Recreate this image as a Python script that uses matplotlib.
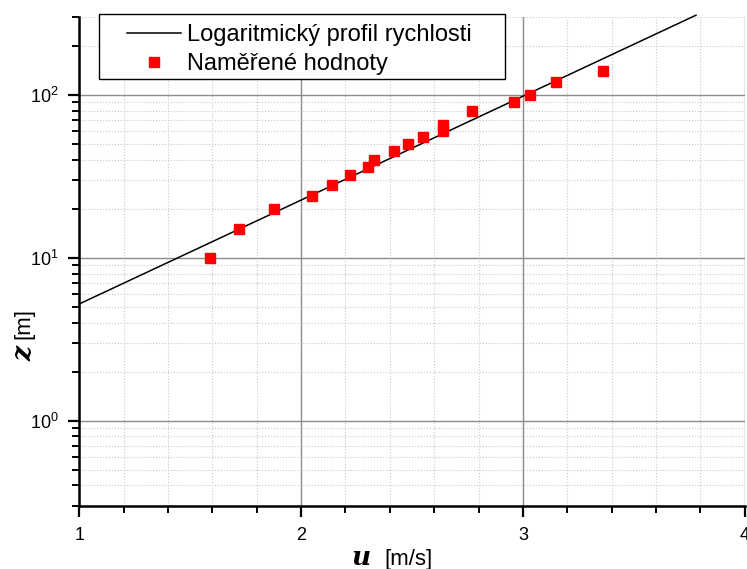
import matplotlib
matplotlib.use("Agg")
import matplotlib.pyplot as plt
from matplotlib.ticker import MultipleLocator, LogLocator
from matplotlib.patches import Rectangle

plt.rcParams['font.family'] = ['Liberation Sans', 'DejaVu Sans']

# === DATA ===
u_mereni = [1.59, 1.72, 1.88, 2.05, 2.14, 2.22, 2.30, 2.33, 2.42, 2.48,
            2.55, 2.64, 2.64, 2.77, 2.96, 3.03, 3.15, 3.36]
z_mereni = [10, 15, 20, 24, 28, 32, 36, 40, 45, 50,
            55, 60, 65, 80, 90, 100, 120, 140]

# logaritmicky profil - koncove body primky (v semilog grafu)
u_profil = [1.0, 3.78]
z_profil = [5.2, 308]

# === PLOT ===
fig = plt.figure(figsize=(7.47, 5.69), dpi=100)
ax = fig.add_axes([0.106, 0.111, 0.891, 0.859])

ax.plot(u_profil, z_profil, color='black', lw=1.1, clip_on=False,
        label='Logaritmický profil rychlosti')
ax.plot(u_mereni, z_mereni, 's', color='red', ms=7.5, mec='red',
        label='Naměřené hodnoty')

ax.set_yscale('log')
ax.set_xlim(1, 4)
ax.set_ylim(0.3, 300)

ax.xaxis.set_major_locator(MultipleLocator(1))
ax.xaxis.set_minor_locator(MultipleLocator(0.2))
ax.yaxis.set_minor_locator(LogLocator(base=10, subs=range(2, 10)))

ax.grid(True, which='major', color='#8c8c8c', lw=1.0)
ax.grid(True, which='minor', color='#c8c8c8', lw=0.8, ls=':')
ax.set_axisbelow(True)

for s in ['top', 'right']:
    ax.spines[s].set_visible(False)
for s in ['left', 'bottom']:
    ax.spines[s].set_linewidth(1.8)

ax.tick_params(which='major', length=8, width=1.6, labelsize=13, pad=7)
ax.tick_params(which='minor', length=5, width=1.4)

# popisky os - promenna tucne kurzivou
ax.text(0.423, -0.121, 'u', transform=ax.transAxes, fontsize=19,
        family='DejaVu Serif', style='italic', weight='bold', ha='center',
        va='baseline')
ax.text(0.459, -0.121, '[m/s]', transform=ax.transAxes, fontsize=16,
        va='baseline')
ax.text(-0.083, 0.312, 'z', transform=ax.transAxes, fontsize=19,
        family='DejaVu Serif', style='italic', weight='bold', rotation=90,
        va='center', ha='center')
ax.text(-0.083, 0.374, '[m]', transform=ax.transAxes, fontsize=16,
        rotation=90, va='center', ha='center')

# legenda s vlastnim ramem
leg = ax.legend(loc='upper left', bbox_to_anchor=(0.072, 0.986), fontsize=17,
                frameon=False, borderpad=0, borderaxespad=0,
                labelspacing=0.3, handlelength=2.3, handletextpad=0.25)
ram = Rectangle((0.030, 0.873), 0.610, 0.133, transform=ax.transAxes,
                facecolor='white', edgecolor='black', lw=1.0, clip_on=False,
                zorder=4)
ax.add_patch(ram)
leg.set_zorder(5)

fig.savefig('out.png', dpi=100)
